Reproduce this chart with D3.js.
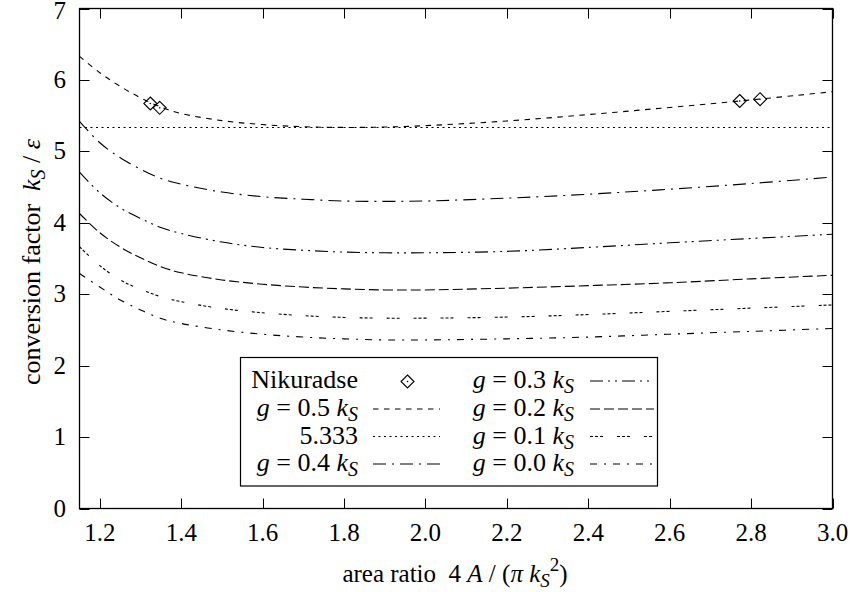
<!DOCTYPE html>
<html><head><meta charset="utf-8">
<script src="https://cdn.jsdelivr.net/npm/d3@7"></script>
<style>
body{margin:0;background:#fff;}
text{white-space:pre;}
</style></head>
<body><svg id="chart" width="852" height="592" font-family="'Liberation Serif', 'Times New Roman', 'DejaVu Serif', serif"></svg>
<script>
// ---- data ----
const xs = [1.15, 1.2, 1.25, 1.3, 1.35, 1.4, 1.5, 1.6, 1.7, 1.8, 1.9, 2.0, 2.2, 2.4, 2.6, 2.8, 3.0];
const g05 = [6.33, 6.10, 5.91, 5.75, 5.62, 5.53, 5.43, 5.375, 5.345, 5.335, 5.34, 5.36, 5.425, 5.515, 5.615, 5.72, 5.835];
const g04 = [5.42, 5.12, 4.91, 4.75, 4.62, 4.54, 4.43, 4.365, 4.33, 4.305, 4.30, 4.305, 4.345, 4.40, 4.47, 4.55, 4.64];
const g03 = [4.71, 4.42, 4.21, 4.06, 3.935, 3.85, 3.73, 3.655, 3.615, 3.59, 3.58, 3.58, 3.60, 3.655, 3.72, 3.78, 3.84];
const g02 = [4.13, 3.86, 3.66, 3.51, 3.385, 3.30, 3.20, 3.14, 3.10, 3.075, 3.06, 3.06, 3.085, 3.12, 3.16, 3.215, 3.265];
const g01 = [3.665, 3.40, 3.20, 3.07, 2.965, 2.895, 2.80, 2.74, 2.70, 2.675, 2.665, 2.665, 2.68, 2.715, 2.76, 2.805, 2.85];
const g00 = [3.29, 3.10, 2.92, 2.78, 2.66, 2.59, 2.50, 2.44, 2.40, 2.375, 2.36, 2.36, 2.375, 2.40, 2.44, 2.48, 2.52];
const constLine = 5.333;
const nikX = [1.324, 1.347, 2.772, 2.822];
const nikY = [5.67, 5.61, 5.705, 5.73];
const xTicks = [1.2, 1.4, 1.6, 1.8, 2.0, 2.2, 2.4, 2.6, 2.8, 3.0];
const yTicks = [0, 1, 2, 3, 4, 5, 6, 7];

// ---- layout ----
const svg = d3.select("#chart");
const L = 79.5, R = 832.5, T = 8.5, B = 508.5;
const x = d3.scaleLinear().domain([1.15, 3.0]).range([L, R]);
const y = d3.scaleLinear().domain([0, 7]).range([B, T]);
const FS = 26, FT = 25, FSUB = 19;

const series = [
  {g: "0.5", vals: g05, dash: "5.5,5.5"},
  {g: "0.4", vals: g04, dash: "13,6,2,6"},
  {g: "0.3", vals: g03, dash: "13,5,2,5,2,5"},
  {g: "0.2", vals: g02, dash: "10,4"},
  {g: "0.1", vals: g01, dash: "3,2,3,2,3,14"},
  {g: "0.0", vals: g00, dash: "7,7,2,7"}
];
const dotDash = "2,3.5";
const LW = 1.1;

svg.append("defs").append("clipPath").attr("id","pc")
  .append("rect").attr("x", L).attr("y", T).attr("width", R-L).attr("height", B-T);

const plot = svg.append("g").attr("clip-path","url(#pc)");
const line = d3.line().x(d => x(d[0])).y(d => y(d[1])).curve(d3.curveCatmullRom.alpha(0.5));

plot.append("line")
  .attr("x1", x(1.15)).attr("x2", x(3.0)).attr("y1", y(constLine)).attr("y2", y(constLine))
  .attr("stroke","#000").attr("stroke-width",LW).attr("stroke-dasharray", dotDash);

series.forEach(s => {
  plot.append("path").datum(xs.map((v,i)=>[v, s.vals[i]]))
    .attr("d", line).attr("fill","none").attr("stroke","#000")
    .attr("stroke-width",LW).attr("stroke-dasharray", s.dash);
});

function diamond(sel, cx, cy) {
  const r = 6.5;
  sel.append("path").attr("d", `M${cx},${cy-r}L${cx+r},${cy}L${cx},${cy+r}L${cx-r},${cy}Z`)
    .attr("fill","none").attr("stroke","#000").attr("stroke-width",1.1);
  sel.append("circle").attr("cx",cx).attr("cy",cy).attr("r",0.8).attr("fill","#000");
}
nikX.forEach((v,i) => diamond(plot, x(v), y(nikY[i])));

// ---- frame & ticks ----
const ax = svg.append("g");
ax.append("rect").attr("x",L).attr("y",T).attr("width",R-L).attr("height",B-T)
  .attr("fill","none").attr("stroke","#000").attr("stroke-width",1.3);
const tl = 10;
xTicks.forEach(t => {
  const px = Math.round(x(t)) + 0.5;
  ax.append("line").attr("x1",px).attr("x2",px).attr("y1",B).attr("y2",B-tl).attr("stroke","#000");
  ax.append("line").attr("x1",px).attr("x2",px).attr("y1",T).attr("y2",T+tl).attr("stroke","#000");
  ax.append("text").attr("x", x(t)).attr("y", 541).attr("text-anchor","middle")
    .attr("font-size",FT).text(t.toFixed(1));
});
yTicks.forEach(t => {
  const py = Math.round(y(t)) + 0.5;
  ax.append("line").attr("x1",L).attr("x2",L+tl).attr("y1",py).attr("y2",py).attr("stroke","#000");
  ax.append("line").attr("x1",R).attr("x2",R-tl).attr("y1",py).attr("y2",py).attr("stroke","#000");
  ax.append("text").attr("x", 66).attr("y", Math.max(y(t)+8, 19)).attr("text-anchor","end")
    .attr("font-size",FT).text(String(t));
});

// ---- axis labels ----
const xl = svg.append("text").attr("x", 455).attr("y", 582).attr("text-anchor","middle").attr("font-size",FT);
xl.append("tspan").text("area ratio  4 ");
xl.append("tspan").attr("font-style","italic").text("A");
xl.append("tspan").text(" / (");
xl.append("tspan").attr("font-style","italic").text("π k");
xl.append("tspan").attr("font-style","italic").attr("font-size",FSUB).attr("dy",5).text("S");
xl.append("tspan").attr("font-size",FSUB).attr("dy",-16).text("2");
xl.append("tspan").attr("dy",11).text(")");

const yl = svg.append("text").attr("transform","translate(40,262) rotate(-90)")
  .attr("text-anchor","middle").attr("font-size",FS);
yl.append("tspan").text("conversion factor  ");
yl.append("tspan").attr("font-style","italic").text("k");
yl.append("tspan").attr("font-style","italic").attr("font-size",FSUB+1).attr("dy",5).text("S");
yl.append("tspan").attr("dy",-5).text(" / ");
yl.append("tspan").attr("font-style","italic").text("ε");

// ---- legend ----
const lg = svg.append("g");
lg.append("rect").attr("x",240.5).attr("y",357.5).attr("width",417).attr("height",128.5)
  .attr("fill","#fff").attr("stroke","#000").attr("stroke-width",1.2);
const rows = [388, 416, 443.5, 471];
function gLabel(sel, xr, yb, gv) {
  const t = sel.append("text").attr("x", xr).attr("y", yb).attr("text-anchor","end").attr("font-size",FS);
  t.append("tspan").attr("font-style","italic").text("g");
  t.append("tspan").text(" = " + gv + " ");
  t.append("tspan").attr("font-style","italic").text("k");
  t.append("tspan").attr("font-style","italic").attr("font-size",FSUB+1).attr("dy",5).text("S");
}
const c1x = 358, c1s = 373, c1e = 440;
const c2x = 574, c2s = 590, c2e = 654;
lg.append("text").attr("x", c1x).attr("y", rows[0]).attr("text-anchor","end").attr("font-size",FS).text("Nikuradse");
diamond(lg, (c1s+c1e)/2 + 1, rows[0]-6.5);
gLabel(lg, c1x, rows[1], series[0].g);
lg.append("line").attr("x1",c1s).attr("x2",c1e).attr("y1",rows[1]-7).attr("y2",rows[1]-7)
  .attr("stroke","#000").attr("stroke-width",LW).attr("stroke-dasharray",series[0].dash);
lg.append("text").attr("x", c1x).attr("y", rows[2]).attr("text-anchor","end").attr("font-size",FS).text(String(constLine));
lg.append("line").attr("x1",c1s).attr("x2",c1e).attr("y1",rows[2]-7).attr("y2",rows[2]-7)
  .attr("stroke","#000").attr("stroke-width",LW).attr("stroke-dasharray",dotDash);
gLabel(lg, c1x, rows[3], series[1].g);
lg.append("line").attr("x1",c1s).attr("x2",c1e).attr("y1",rows[3]-7).attr("y2",rows[3]-7)
  .attr("stroke","#000").attr("stroke-width",LW).attr("stroke-dasharray",series[1].dash);
series.slice(2).forEach((s,i) => {
  gLabel(lg, c2x, rows[i], s.g);
  lg.append("line").attr("x1",c2s).attr("x2",c2e).attr("y1",rows[i]-7).attr("y2",rows[i]-7)
    .attr("stroke","#000").attr("stroke-width",LW).attr("stroke-dasharray",s.dash);
});
</script></body></html>
